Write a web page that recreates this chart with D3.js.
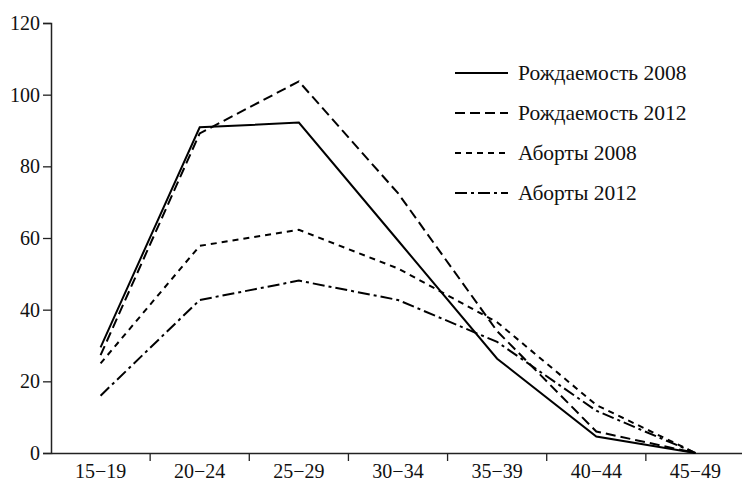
<!DOCTYPE html>
<html>
<head>
<meta charset="utf-8">
<script src="https://cdn.jsdelivr.net/npm/d3@7"></script>
<style>
  body { margin: 0; background: #fff; }
  text { font-family: "Liberation Serif", "DejaVu Serif", serif; fill: #111; }
</style>
</head>
<body>
<svg id="chart" width="742" height="486"></svg>
<script>
const ageGroups = ['15−19', '20−24', '25−29', '30−34', '35−39', '40−44', '45−49'];
const yTicks = [0, 20, 40, 60, 80, 100, 120];

const births2008 = [29.5, 90.9, 92.2, 59.3, 26.3, 4.6, 0];
const births2012 = [27.3, 89.2, 103.7, 72.5, 34, 6, 0];
const abortions2008 = [25, 57.8, 62.3, 51.5, 36.5, 13.4, 0];
const abortions2012 = [16, 42.7, 48.1, 42.7, 31, 11.8, 0];

const seriesNames = ['Рождаемость 2008', 'Рождаемость 2012', 'Аборты 2008', 'Аборты 2012'];
const seriesValues = [births2008, births2012, abortions2008, abortions2012];
const seriesDash = [null, '10,5', '6,5', '12,4,3,4'];

const margin = { top: 23, left: 51, bottom: 33 };
const width = 694;
const height = 486 - margin.top - margin.bottom;

const svg = d3.select('#chart');
const g = svg.append('g').attr('transform', `translate(${margin.left},${margin.top})`);

const x = d3.scaleBand().domain(ageGroups).range([0, width]);
const y = d3.scaleLinear().domain([0, 120]).range([height, 0]);

// axes
const yAxis = g.append('g')
  .call(d3.axisLeft(y).tickValues(yTicks).tickSize(8).tickPadding(3));
yAxis.select('.domain').attr('stroke', '#222').attr('stroke-width', 1.5);
yAxis.selectAll('.tick line').attr('stroke', '#222').attr('stroke-width', 1.3);
yAxis.selectAll('.tick text').style('font-size', '20px');

const xAxis = g.append('g')
  .attr('transform', `translate(0,${height})`)
  .call(d3.axisBottom(x).tickSize(0).tickPadding(11));
xAxis.select('.domain').attr('stroke', '#222').attr('stroke-width', 1.5);
xAxis.selectAll('.tick text').style('font-size', '20px');

// tick marks between categories
xAxis.selectAll('.sep')
  .data(ageGroups.slice(1))
  .join('line')
  .attr('x1', d => x(d)).attr('x2', d => x(d))
  .attr('y1', 0).attr('y2', 8)
  .attr('stroke', '#222').attr('stroke-width', 1.3);

// lines
const line = d3.line()
  .x((d, i) => x(ageGroups[i]) + x.bandwidth() / 2)
  .y(d => y(d));

seriesValues.forEach((vals, k) => {
  g.append('path')
    .datum(vals)
    .attr('fill', 'none')
    .attr('stroke', '#000')
    .attr('stroke-width', 2)
    .attr('stroke-dasharray', seriesDash[k])
    .attr('d', line);
});

// legend
const legend = svg.append('g').attr('transform', 'translate(455,73)');
seriesNames.forEach((name, k) => {
  const row = legend.append('g').attr('transform', `translate(0,${k * 40})`);
  row.append('line')
    .attr('x1', 0).attr('x2', 53).attr('y1', 0).attr('y2', 0)
    .attr('stroke', '#000').attr('stroke-width', 2)
    .attr('stroke-dasharray', seriesDash[k]);
  row.append('text')
    .attr('x', 63).attr('y', 7)
    .style('font-size', '21.5px')
    .text(name);
});
</script>
</body>
</html>
